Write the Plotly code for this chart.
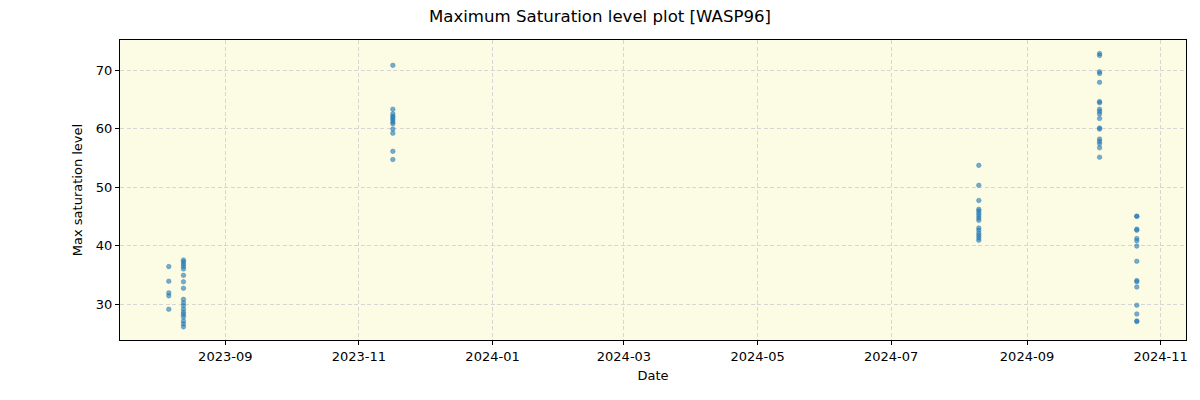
import plotly.graph_objects as go

dates_c1 = ["2023-08-06 05:00"] * 5
vals_c1 = [36.4, 33.9, 31.9, 31.4, 29.1]
dates_c2 = ["2023-08-12 22:00"] * 18
vals_c2 = [37.5, 37.2, 36.8, 36.4, 36.0, 34.9, 33.8, 32.7, 30.8, 30.2, 29.7, 29.1,
           28.6, 28.2, 27.8, 27.1, 26.6, 26.1]
dates_c3 = ["2023-11-16 12:00"] * 12
vals_c3 = [70.8, 63.3, 62.5, 62.1, 61.8, 61.5, 61.1, 60.8, 59.9, 59.2, 56.1, 54.7]
dates_c4 = ["2024-08-10 00:00"] * 15
vals_c4 = [53.7, 50.3, 47.7, 46.2, 45.9, 45.5, 45.1, 44.7, 44.3, 43.0, 42.6, 42.1,
           41.7, 41.3, 40.9]
dates_c5 = ["2024-10-04 03:00"] * 18
vals_c5 = [72.8, 72.5, 69.7, 69.4, 67.9, 64.6, 64.4, 63.3, 62.9, 62.5, 61.7, 60.1,
           59.9, 58.2, 57.8, 57.4, 56.7, 55.1]
dates_c6 = ["2024-10-21 03:00"] * 15
vals_c6 = [45.0, 45.0, 42.6, 42.8, 41.2, 40.8, 39.9, 37.3, 34.0, 33.8, 32.9, 29.8,
           28.3, 27.1, 27.0]

dates = dates_c1 + dates_c2 + dates_c3 + dates_c4 + dates_c5 + dates_c6
vals = vals_c1 + vals_c2 + vals_c3 + vals_c4 + vals_c5 + vals_c6

x_range = ["2023-07-14 22:30", "2024-11-12 14:00"]
y_range = [23.85, 75.13]

fig = go.Figure()
fig.add_trace(go.Scatter(
    x=dates, y=vals, mode="markers",
    marker=dict(size=4.6, color="rgba(31,119,180,0.6)",
                line=dict(width=0.6, color="rgba(31,119,180,0.6)")),
    showlegend=False,
))

axis_common = dict(
    showline=True, linecolor="black", linewidth=1, mirror=True,
    ticks="outside", ticklen=4, tickcolor="black",
    showgrid=True, gridcolor="#d6d6d6", griddash="4px,2.5px", gridwidth=1,
    zeroline=False,
    tickfont=dict(family="DejaVu Sans", size=13, color="black"),
)

fig.update_layout(
    width=1200, height=400,
    margin=dict(l=120, r=12, t=40, b=60),
    paper_bgcolor="white",
    plot_bgcolor="#fcfbe3",
    font=dict(family="DejaVu Sans", color="black"),
    title=dict(text="Maximum Saturation level plot [WASP96]", x=0.5, xanchor="center",
               y=0.96, yanchor="middle", font=dict(size=16.6, family="DejaVu Sans")),
    xaxis=dict(axis_common, range=x_range, type="date", tick0="2023-09-01",
               dtick="M2", tickformat="%Y-%m",
               title=dict(text="Date", font=dict(size=13), standoff=8)),
    yaxis=dict(axis_common, range=y_range, tick0=0, dtick=10,
               title=dict(text="Max saturation level", font=dict(size=13), standoff=10)),
)

fig.write_html("out.html")
